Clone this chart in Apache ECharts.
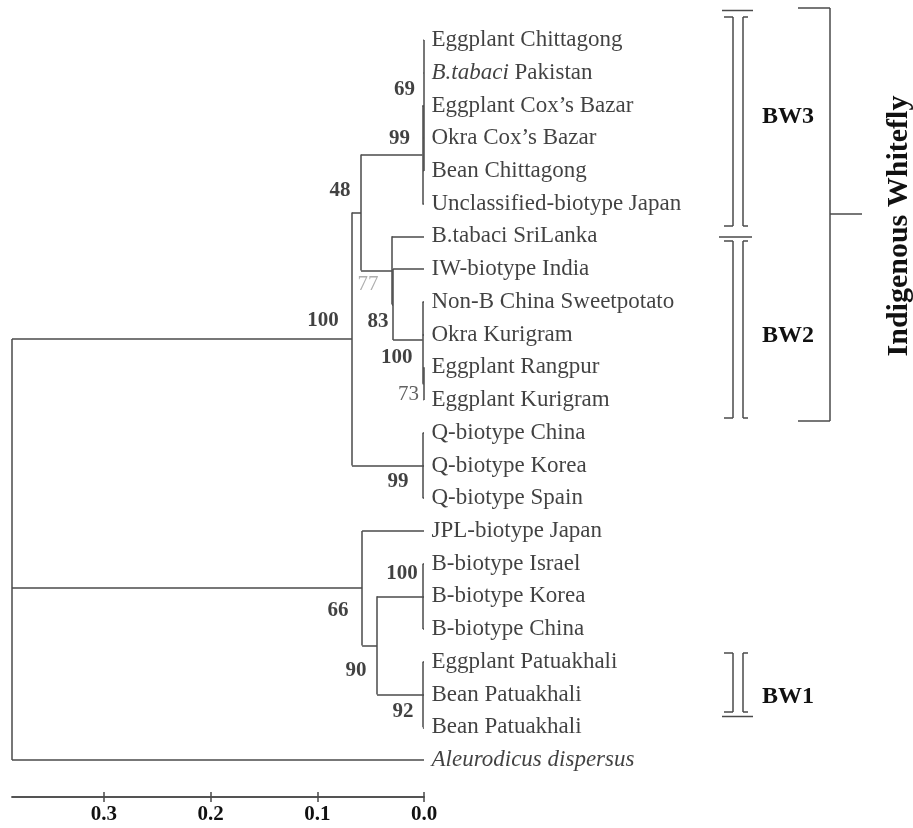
<!DOCTYPE html>
<html><head><meta charset="utf-8">
<script src="https://cdn.jsdelivr.net/npm/echarts@6/dist/echarts.min.js"></script>
<style>html,body{margin:0;padding:0;background:#fff}#c{width:913px;height:828px}</style>
</head><body><div id="c"></div>
<script>
// ---- data ----
const leafNames = [
  'Eggplant Chittagong', 'B.tabaci Pakistan', 'Eggplant Cox\u2019s Bazar', 'Okra Cox\u2019s Bazar',
  'Bean Chittagong', 'Unclassified-biotype Japan', 'B.tabaci SriLanka', 'IW-biotype India',
  'Non-B China Sweetpotato', 'Okra Kurigram', 'Eggplant Rangpur', 'Eggplant Kurigram',
  'Q-biotype China', 'Q-biotype Korea', 'Q-biotype Spain', 'JPL-biotype Japan',
  'B-biotype Israel', 'B-biotype Korea', 'B-biotype China', 'Eggplant Patuakhali',
  'Bean Patuakhali', 'Bean Patuakhali', 'Aleurodicus dispersus'
];
const leafItalic = ['', 'B.tabaci', '', '', '', '', '', '', '', '', '', '', '', '', '', '', '', '', '', '', '', '', 'Aleurodicus dispersus'];
// internal nodes (children first); children: numbers = leaf index, strings = node name
const nodeNames    = ['N69', 'N99', 'N73', 'N100b', 'N83', 'N77', 'N48', 'Q', 'ING', 'B', 'BW1', 'N90', 'N66', 'ROOT'];
const nodeHeights  = [0.0005, 0.0015, 0.0004, 0.0012, 0.029, 0.030, 0.059, 0.001, 0.0675, 0.001, 0.001, 0.044, 0.058, 0.386];
const nodeChildren = [[0,1,2,3,4], ['N69',5], [10,11], [8,9,'N73'], [7,'N100b'], [6,'N83'], ['N99','N77'], [12,13,14], ['N48','Q'], [16,17,18], [19,20,21], ['B','BW1'], [15,'N90'], ['ING','N66',22]];
const nodeSupport  = [69, 99, 73, 100, 83, 77, 48, 99, 100, 100, 92, 90, 66, null];
const scaleTicks   = [0, 0.1, 0.2, 0.3];

// ---- label styling (layout only) ----
const supportOffset = {N69:[-19,-16], N99:[-23,-16], N73:[-15,11], N100b:[-26,18], N83:[-15,17], N77:[-24,14],
  N48:[-21,-22], Q:[-25,16], ING:[-29,-18], B:[-21,-23], BW1:[-20,17], N90:[-21,25], N66:[-24,22]};
const supportStyle = {N77:{color:'#9a9a9a', fontWeight:'normal'}, N73:{color:'#3a3a3a', fontWeight:'normal'}};

// ---- build tree geometry in data units ----
const leafPos = leafNames.map((n, i) => ({d: 0, y: i}));
const nodePos = {};
const ref = c => typeof c === 'number' ? leafPos[c] : nodePos[c];
nodeNames.forEach((nm, k) => {
  const ch = nodeChildren[k].map(ref);
  const y = ch.reduce((s, c) => s + c.y, 0) / ch.length;
  nodePos[nm] = {d: nodeHeights[k], y, ch};
});
const segs = [];
nodeNames.forEach(nm => {
  const p = nodePos[nm];
  const ys = p.ch.map(c => c.y);
  segs.push({coords: [[p.d, Math.min(...ys)], [p.d, Math.max(...ys)]]});
  p.ch.forEach(c => segs.push({coords: [[p.d, c.y], [c.d, c.y]]}));
});

const leafData = leafNames.map((n, i) => [leafPos[i].d, leafPos[i].y]);
const supportData = [];
nodeNames.forEach((nm, k) => {
  if (nodeSupport[k] == null) return;
  const st = supportStyle[nm] || {};
  supportData.push({
    value: [nodePos[nm].d, nodePos[nm].y, nodeSupport[k]],
    label: {offset: supportOffset[nm], color: st.color || '#111', fontWeight: st.fontWeight || 'bold'}
  });
});

const SERIF = '"Liberation Serif","Times New Roman",serif';
const LC = '#4a4a4a';
const ln = (x1, y1, x2, y2) => ({type: 'line', shape: {x1, y1, x2, y2}, style: {stroke: LC, lineWidth: 1.5}, silent: true});
const txt = (x, y, t, size, rot) => ({type: 'text', x, y, rotation: rot || 0, silent: true,
  style: {text: t, font: 'bold ' + size + 'px ' + SERIF, fill: '#111', textAlign: 'center', textVerticalAlign: 'middle', align: 'center', verticalAlign: 'middle'}});
function doubleBracket(y1, y2) {
  return [ln(724, y1, 733, y1), ln(733, y1, 733, y2), ln(724, y2, 733, y2),
          ln(748, y1, 743, y1), ln(743, y1, 743, y2), ln(748, y2, 743, y2)];
}
const graphics = [].concat(
  [ln(722, 10.5, 753, 10.5)],
  doubleBracket(17, 226),
  [ln(719, 237, 752, 237)],
  doubleBracket(241, 418),
  doubleBracket(653, 712),
  [ln(722, 716.5, 753, 716.5)],
  [ln(798, 8, 830, 8), ln(830, 8, 830, 421), ln(798, 421, 830, 421), ln(830, 214, 862, 214)],
  [txt(788, 117, 'BW3', 24), txt(788, 336, 'BW2', 24), txt(788, 697, 'BW1', 24),
   txt(899, 226, 'Indigenous Whitefly', 30, Math.PI / 2)]
);

const chart = echarts.init(document.getElementById('c'), null, {renderer: 'canvas'});
const axisCommon = {
  type: 'value', inverse: true, min: 0, max: 0.386, position: 'bottom',
  splitLine: {show: false},
  axisLine: {show: true, onZero: false, lineStyle: {color: LC, width: 1.5}}
};
chart.setOption({
  animation: false,
  backgroundColor: '#fff',
  grid: [
    {left: 12, width: 412, top: 40, height: 720},
    {left: 12, width: 412, top: 787, height: 10}
  ],
  xAxis: [
    Object.assign({}, axisCommon, {
      gridIndex: 0, offset: 37,
      axisTick: {show: true, length: 5, customValues: scaleTicks, lineStyle: {color: LC, width: 1.5}},
      axisLabel: {show: true, customValues: scaleTicks, formatter: v => Number(v).toFixed(1), margin: 7,
        fontFamily: SERIF, fontWeight: 'bold', fontSize: 21, color: '#111'}
    }),
    Object.assign({}, axisCommon, {
      gridIndex: 1, offset: 0,
      axisTick: {show: true, inside: true, length: 5, customValues: scaleTicks, lineStyle: {color: LC, width: 1.5}},
      axisLabel: {show: false}
    })
  ],
  yAxis: [
    {gridIndex: 0, type: 'value', inverse: true, min: 0, max: 22, show: false},
    {gridIndex: 1, type: 'value', min: 0, max: 1, show: false}
  ],
  series: [
    {
      type: 'lines', coordinateSystem: 'cartesian2d', xAxisIndex: 0, yAxisIndex: 0,
      polyline: false, clip: false, silent: true,
      lineStyle: {color: LC, width: 1.5, curveness: 0, opacity: 1},
      data: segs
    },
    {
      type: 'scatter', xAxisIndex: 0, yAxisIndex: 0, symbolSize: 1, clip: false, silent: true,
      itemStyle: {color: 'rgba(0,0,0,0)'},
      data: leafData,
      label: {
        show: true, position: 'right', distance: 7,
        fontFamily: SERIF, fontSize: 23, color: '#111',
        formatter: p => {
          const n = leafNames[p.dataIndex], it = leafItalic[p.dataIndex];
          if (!it) return n;
          const rest = n.slice(it.length);
          return '{i|' + it + '}' + rest;
        },
        rich: {i: {fontStyle: 'italic', fontFamily: SERIF, fontSize: 23, color: '#111'}}
      }
    },
    {
      type: 'scatter', xAxisIndex: 0, yAxisIndex: 0, symbolSize: 1, clip: false, silent: true,
      itemStyle: {color: 'rgba(0,0,0,0)'},
      data: supportData,
      label: {
        show: true, position: 'inside', align: 'center', verticalAlign: 'middle',
        fontFamily: SERIF, fontSize: 21,
        formatter: p => String(p.value[2])
      }
    }
  ],
  graphic: graphics
});
</script>
</body></html>
